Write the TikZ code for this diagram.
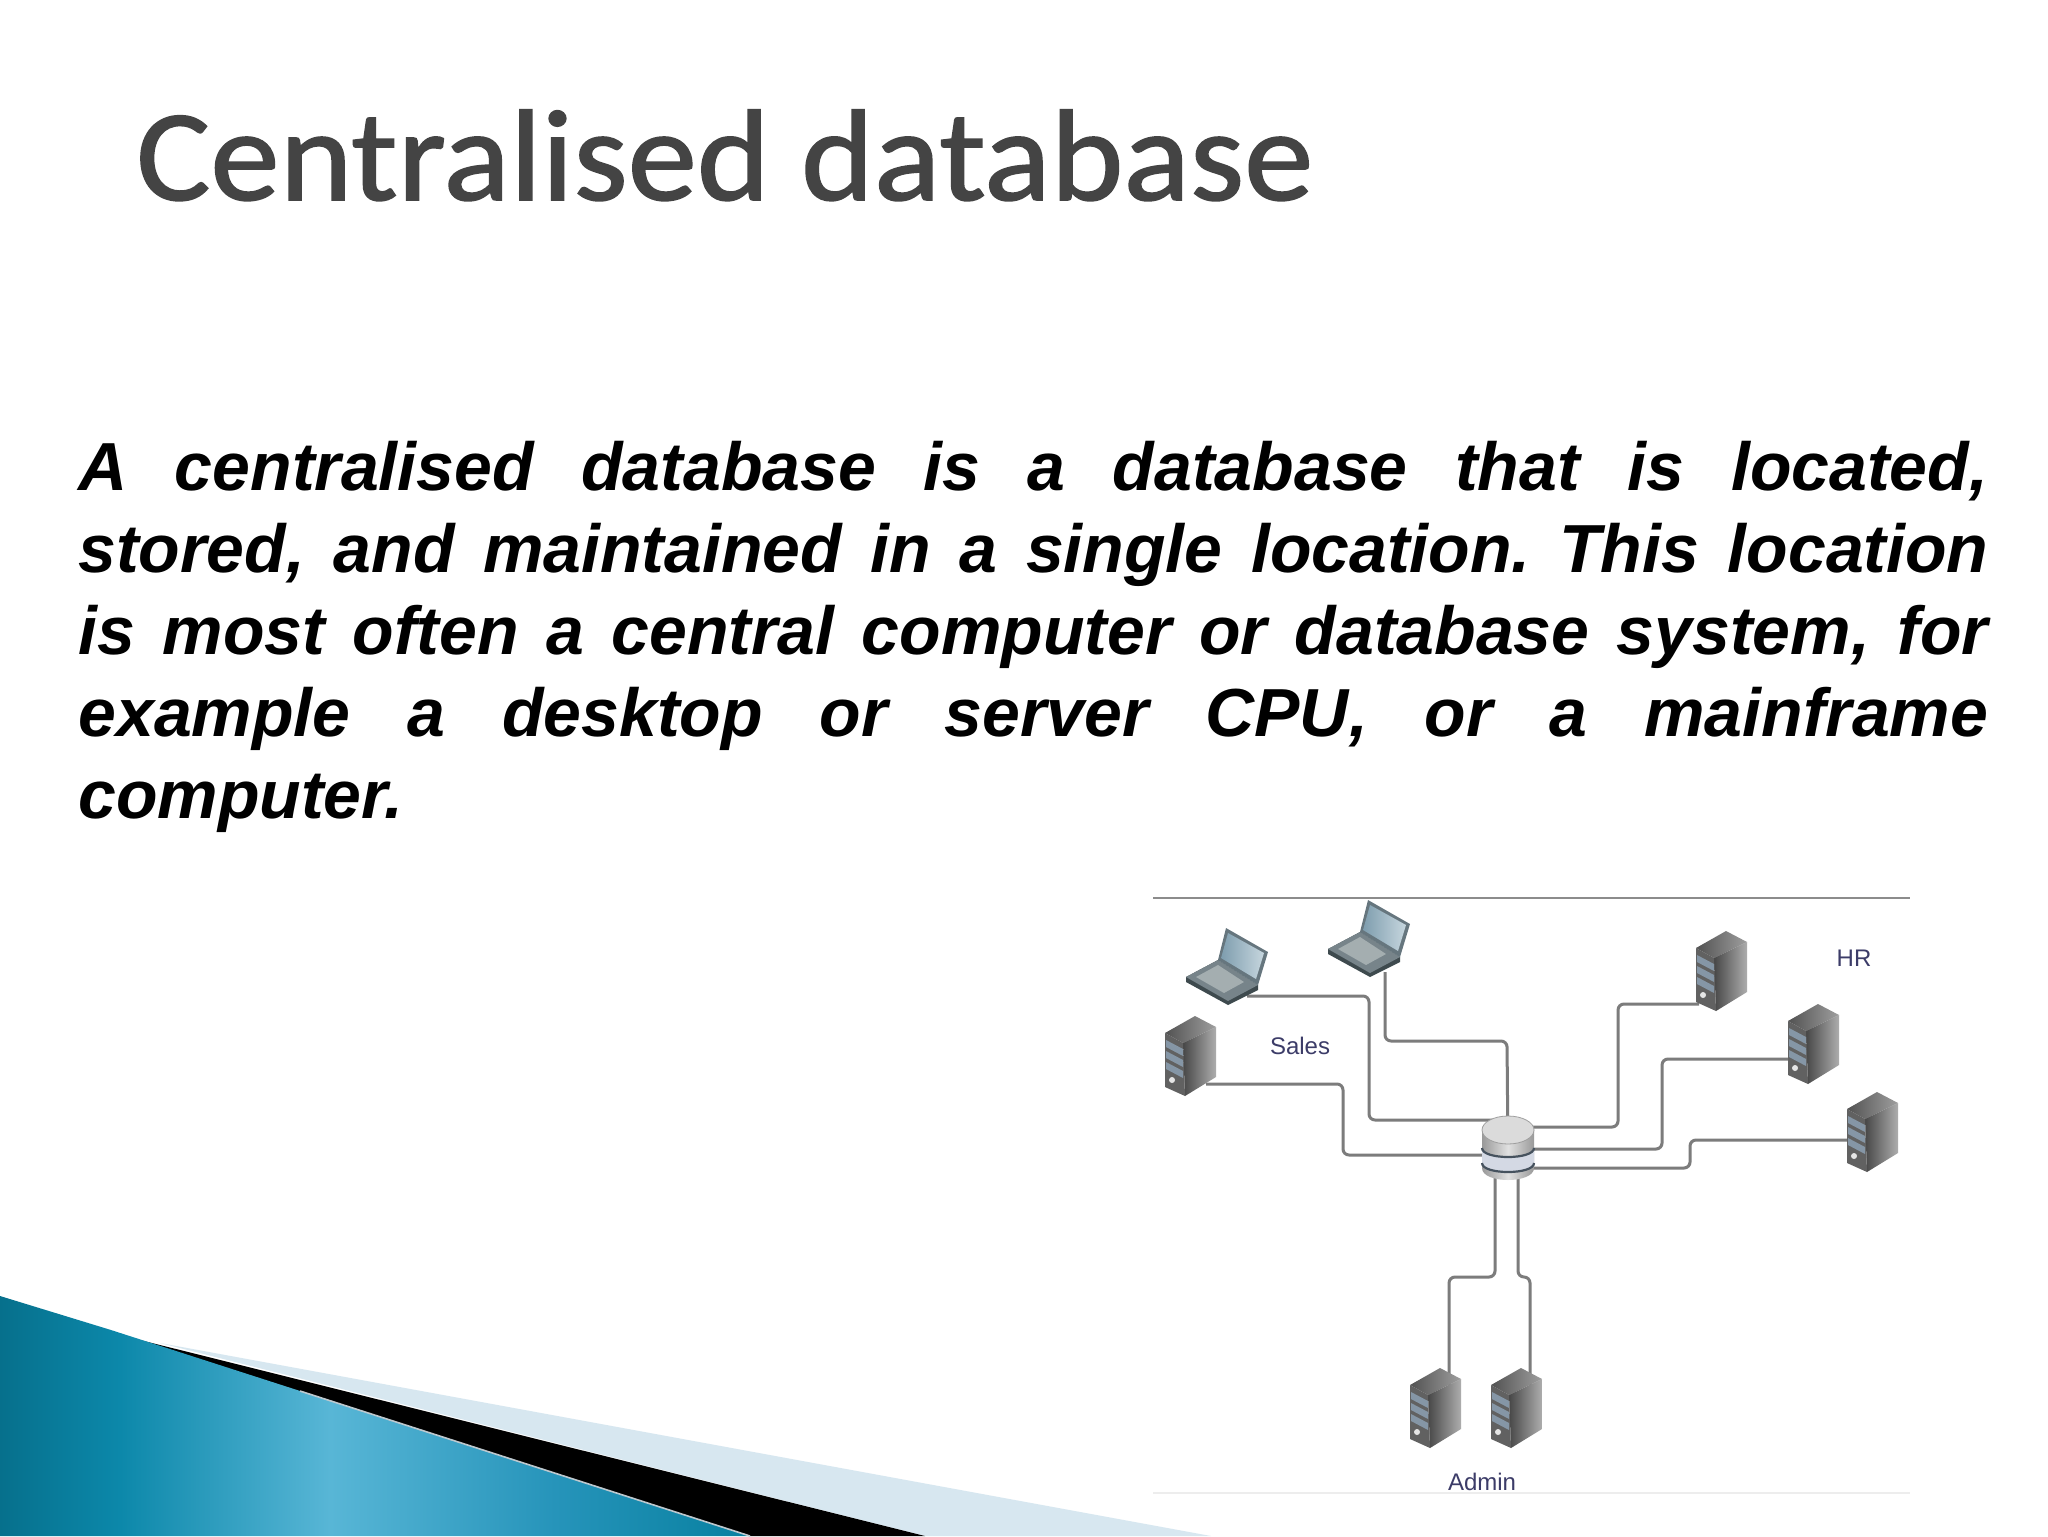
\documentclass[tikz,border=0pt]{standalone}
\usepackage{fontspec}
\setmainfont{Liberation Sans}
\newfontfamily\titlefont[FakeStretch=1.068,FakeBold=1.2]{Carlito}
\usetikzlibrary{calc}
\definecolor{titlegray}{HTML}{444444}
\definecolor{wiregray}{HTML}{7C7C7C}
\definecolor{labelnavy}{HTML}{3C3C68}
\definecolor{bandpale}{HTML}{D7E7F0}
\definecolor{swA}{HTML}{06708C}
\definecolor{swB}{HTML}{0C88AA}
\definecolor{swC}{HTML}{58B6D6}
\definecolor{swD}{HTML}{2694BA}
\definecolor{swE}{HTML}{0880A0}
\definecolor{bayblue}{HTML}{8596A6}
\definecolor{screenA}{HTML}{7E9DAE}
\definecolor{screenB}{HTML}{C6D6DE}
\definecolor{lapframe}{HTML}{66767E}
\definecolor{lapbase}{HTML}{77848A}
\definecolor{lapkeys}{HTML}{A4AEB0}
\definecolor{lapedge}{HTML}{3E4A4E}
\definecolor{dbline}{HTML}{46525E}
\definecolor{dbmid}{HTML}{D4D9E4}
\pgfdeclarehorizontalshading{swoosh}{100bp}{
 color(0bp)=(swA);
 color(25bp)=(swA);
 color(33bp)=(swB);
 color(47bp)=(swC);
 color(62bp)=(swD);
 color(75bp)=(swE);
 color(100bp)=(swE)}
\tikzset{
 wire/.style={draw=wiregray,line width=1.5pt,rounded corners=3pt},
 iconbox/.style={inner sep=0pt,minimum width=26pt,minimum height=40pt},
 lapbox/.style={inner sep=0pt,minimum width=41pt,minimum height=37pt},
 dblabel/.style={text=labelnavy,font=\fontsize{12}{14}\selectfont,inner sep=0pt},
 server/.pic={
  \shade[left color=black!68,right color=black!38] (-25,-23) -- (5,-40) -- (26,-29) -- (-7,-13) -- cycle;
  \shade[left color=black!72,right color=black!32] (-7,-13) -- (26,-29) -- (26,21) -- (-5,40) -- cycle;
  \fill[black!62] (-25,-23) -- (-7,-13) -- (-5,40) -- (-25,31) -- cycle;
  \foreach \yy in {-16,-5,6}{\fill[bayblue] (-24,\yy) -- (-7,\yy+9) -- (-7,\yy+16) -- (-24,\yy+7) -- cycle;}
  \fill[black!10] (-18,24) circle [radius=3];
 },
 laptop/.pic={
  \fill[lapedge] (-41,12) -- (-41,17) -- (1,40) -- (31,25) -- (31,20) -- (-9,-5) -- cycle;
  \fill[lapbase] (-41,12) -- (-9,-5) -- (31,20) -- (1,36) -- cycle;
  \fill[lapkeys] (-31,12) -- (-9,0) -- (17,17) -- (-3,28) -- cycle;
  \fill[lapframe] (-1,-37) -- (41,-13) -- (31,20) -- (-9,-5) -- cycle;
  \shade[left color=screenA,right color=screenB] (1,-32) -- (37,-12) -- (29,14) -- (-6,-7) -- cycle;
 },
 database/.pic={
  \shade[left color=black!40,right color=black!40,middle color=black!12]
    (-26,-25) -- (-26,13) .. controls (-26,29) and (26,29) .. (26,13) -- (26,-25) -- cycle;
  \fill[dbmid] (-26,-7) .. controls (-26,5) and (26,5) .. (26,-7) -- (26,8) .. controls (26,20) and (-26,20) .. (-26,8) -- cycle;
  \draw[dbline,line width=1.1pt] (-26,-7) .. controls (-26,5) and (26,5) .. (26,-7);
  \draw[dbline,line width=1.1pt] (-26,8) .. controls (-26,20) and (26,20) .. (26,8);
  \fill[black!14,draw=black!38,line width=.4pt] (0,-25) ellipse [x radius=26,y radius=14];
 },
}
\begin{document}
\begin{tikzpicture}[x=0.5pt,y=-0.5pt]
\useasboundingbox (0,0) rectangle (2048,1536);
\fill[white] (0,0) rectangle (2048,1536);
% swoosh
\fill[bandpale] (160,1343) -- (1211,1536) -- (925,1536) -- cycle;
\fill[black] (108,1332) -- (925,1536) -- (750,1536) -- cycle;
\shade[shading=swoosh] (0,1296) -- (111,1330) -- (750,1536) -- (0,1536) -- cycle;
\draw[bandpale!70!gray,line width=.8pt] (300,1391) -- (750,1536);
% title
\node[anchor=base west,inner sep=0pt,text=titlegray,font=\titlefont\fontsize{65}{70}\selectfont] (title) at (136,200) {Centralised database};
% paragraph
\node[anchor=north west,inner sep=0pt,text width=955pt,align=justify,font=\fontsize{34}{41}\selectfont\bfseries\itshape\frenchspacing] (body) at (78,441) {A centralised database is a database that is located,\linebreak stored, and maintained in a single location. This location\linebreak is most often a central computer or database system, for\linebreak example a desktop or server CPU, or a mainframe\linebreak computer.};
% frame rules of the picture
\coordinate (ruleAw) at (1153,898); \coordinate (ruleAe) at (1910,898);
\coordinate (ruleBw) at (1153,1493); \coordinate (ruleBe) at (1910,1493);
\draw[black!45,line width=1pt] (ruleAw) -- (ruleAe);
\draw[black!7,line width=1pt] (ruleBw) -- (ruleBe);
% nodes
\node[iconbox] (srvL) at (1190,1056) {};
\node[iconbox] (hrA) at (1721,971) {};
\node[iconbox] (hrB) at (1813,1044) {};
\node[iconbox] (hrC) at (1872,1132) {};
\node[iconbox] (admA) at (1435,1408) {};
\node[iconbox] (admB) at (1516,1408) {};
\node[lapbox] (lapA) at (1227,965) {};
\node[lapbox] (lapB) at (1369,937) {};
\node[iconbox] (db) at (1508,1155) {};
% connectors
\draw[wire] (lapA.center) ++(20,31) -- (1369,996) -- (1369,1120) -- (db.center |- 0,1120);
\draw[wire] (lapB.center) ++(16,35) -- (1385,1041) -- (1507,1041) -- (db.center);
\draw[wire] (srvL.center) ++(16,28) -- (1343,1084) -- (1343,1155) -- (db.center);
\draw[wire] (hrA.center) ++(-22,33) -- (1618,1004) -- (1618,1127) -- (db.center |- 0,1127);
\draw[wire] (hrB.center) ++(-25,15) -- (1662,1059) -- (1662,1149) -- (db.center |- 0,1149);
\draw[wire] (hrC.center) ++(-25,8) -- (1690,1140) -- (1690,1168) -- (db.center |- 0,1168);
\draw[wire] (db.center -| 1495,0) -- (1495,1277) -- (1449,1277) -- (admA.center -| 1449,0) ;
\draw[wire] (db.center -| 1518,0) -- (1518,1277) -- (1530,1277) -- (admB.center -| 1530,0);
% icons
\pic at (srvL) {server};
\pic at (hrA) {server};
\pic at (hrB) {server};
\pic at (hrC) {server};
\pic at (admA) {server};
\pic at (admB) {server};
\pic at (lapA) {laptop};
\pic at (lapB) {laptop};
\pic at (db) {database};
% labels
\node[dblabel] (hrlabel) at (1854,958) {HR};
\node[dblabel] (saleslabel) at (1300,1046) {Sales};
\node[dblabel] (adminlabel) at (1482,1482) {Admin};
\end{tikzpicture}
\end{document}
